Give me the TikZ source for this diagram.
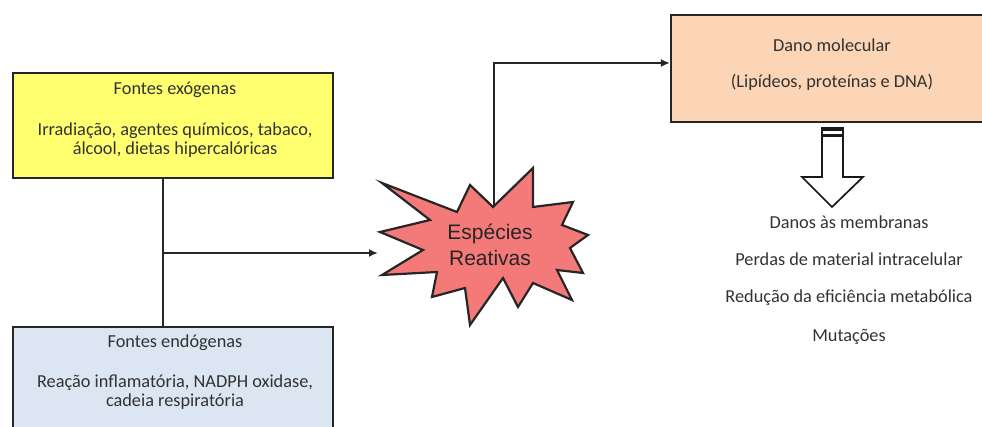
\documentclass[tikz,border=0pt]{standalone}
\usepackage{fontspec}
\setmainfont{Carlito}
\newfontfamily\arialfont{Liberation Sans}
\usetikzlibrary{positioning,arrows.meta}

\definecolor{exoyellow}{RGB}{255,255,112}
\definecolor{endoblue}{RGB}{220,230,242}
\definecolor{danopeach}{RGB}{251,213,181}
\definecolor{espred}{RGB}{244,122,122}
\definecolor{txtgray}{RGB}{50,50,50}

\begin{document}
\begin{tikzpicture}[x=1pt,y=-1pt,
                box/.style={draw=black!85, line width=2.2pt, inner sep=0pt},
                txt/.style={font=\fontsize{18.3}{19}\selectfont, text=txtgray, align=center, inner sep=0pt},
                conn/.style={line width=2.1pt, draw=black!85},
                tip/.style={-{Latex[length=9pt,width=8pt]}}]
                \useasboundingbox (0,0) rectangle (982,427);

                % caixas
                \node[box, fill=exoyellow, minimum width=320pt, minimum height=105pt] (exo) at (173,125.5) {};
                \node[box, fill=endoblue, minimum width=320pt, minimum height=113pt] (endo) at (173,383.5) {};
                \node[box, fill=danopeach, minimum width=322pt, minimum height=107pt] (dano) at (832,68.5) {};

                \node[txt] (exoT) at (175,90) {Fontes exógenas};
                \node[txt] (exoB) at (175,140) {Irradiação, agentes químicos, tabaco,\\álcool, dietas hipercalóricas};

                \node[txt] (endoT) at (175,343) {Fontes endógenas};
                \node[txt] (endoB) at (175,392.5) {Reação inflamatória, NADPH oxidase,\\cadeia respiratória};

                \node[txt] (danoT) at (832,45) {Dano molecular};
                \node[txt] (danoB) at (832,82) {(Lipídeos, proteínas e DNA)};

                % estrela
                \filldraw[fill=espred, draw=black!85, line width=2.2pt, line join=miter]
                    (382,183) -- (457,212) -- (470,185) -- (493,207) -- (533,168) -- (533,207)
                    -- (573,202) -- (562,225) -- (588,235) -- (570,248) -- (583,273) -- (557,270)
                    -- (572,300) -- (533,283) -- (518,307) -- (503,278) -- (470,325) -- (465,288)
                    -- (432,297) -- (437,272) -- (382,275) -- (423,250) -- (380,232) -- (430,220) -- cycle;
                \node[font=\arialfont\fontsize{21}{26}\selectfont, align=center, text=black!85, inner sep=0pt] (esp) at (490,245) {Espécies\\Reativas};

                \coordinate (espL) at (378,253);
                \coordinate (espT) at (494,207.5);
                \coordinate (junc) at (163,253);

                % ligacoes
                \draw[conn] ([xshift=-10pt]exo.south) -- ([xshift=-10pt]endo.north);
                \draw[conn, tip] (junc) -- (espL);
                \draw[conn, tip] (espT) |- ([yshift=5.5pt]dano.west);

                % seta larga
                \filldraw[fill=white, draw=black!90, line width=1.7pt, line join=miter]
                    (822,128) -- (843,128) -- (843,177) -- (863,177) -- (832,207) -- (802,177) -- (822,177) -- cycle;
                \fill[black!90] (822,128) rectangle (843,131.5);
                \fill[black!90] (822,134.5) rectangle (843,137.5);

                \node[txt] (memb) at (849,222) {Danos às membranas};
                \node[txt] (perd) at (849,259) {Perdas de material intracelular};
                \node[txt] (redu) at (849,298) {Redução da eficiência metabólica};
                \node[txt] (muta) at (849,337) {Mutações};
            \end{tikzpicture}
\end{document}
